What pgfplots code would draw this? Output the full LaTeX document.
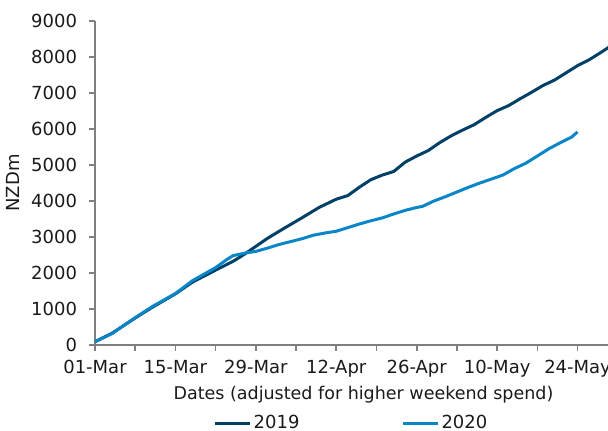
\documentclass[border=0pt]{standalone}
\usepackage{fontspec}
\setmainfont{DejaVu Sans}
\usepackage{pgfplots}
\pgfplotsset{compat=1.18}
\definecolor{c2019}{HTML}{003F66}
\definecolor{c2020}{HTML}{0A86C8}
\definecolor{axgray}{HTML}{7F7F7F}
\definecolor{txt}{HTML}{1A1A1A}
\begin{document}
\begin{tikzpicture}
\fontsize{9}{10.8}\selectfont
\begin{axis}[
  scale only axis,
  width=256.5pt, height=162pt,
  xmin=0, xmax=89.3, ymin=0, ymax=9000,
  axis lines=left,
  axis line style={-, axgray, line width=0.8pt},
  tick style={axgray, line width=0.8pt},
  tick align=outside,
  major tick length=2.8pt, minor tick length=2.8pt,
  xtick={0,14,28,42,56,70,84},
  minor xtick={7,21,35,49,63,77},
  xticklabels={01-Mar,15-Mar,29-Mar,12-Apr,26-Apr,10-May,24-May},
  ytick={0,1000,...,9000},
  yticklabel style={/pgf/number format/1000 sep={}, xshift=-3pt},
  xticklabel style={yshift=-1.5pt},
  /pgf/number format/assume math mode=true,
  ticklabel style={font=\fontsize{9}{10.8}\selectfont, text=txt},
  xlabel={Dates (adjusted for higher weekend spend)},
  ylabel={NZDm},
  label style={text=txt},
  xlabel style={font=\fontsize{8.75}{10.5}\selectfont, at={(axis description cs:0.5,0)}, anchor=center, xshift=6pt, yshift=-25pt},
  ylabel style={font=\fontsize{9}{10.8}\selectfont, at={(axis description cs:-0.16,0.5)}, anchor=center, rotate=0},
  legend style={at={(axis description cs:0.5,0)}, anchor=center, yshift=-39pt,
    draw=none, fill=none, legend columns=2, font=\fontsize{9}{10.8}\selectfont, text=txt,
    /tikz/every even column/.append style={column sep=50pt},
    /tikz/every odd column/.append style={column sep=0pt},
    nodes={inner xsep=1pt}},
  legend image code/.code={\draw[#1, line width=1.5pt] (0pt,0pt) -- (17.5pt,0pt);},
  clip=true,
]
\addplot[c2019, line width=1.5pt] coordinates {
(0,90) (3,330) (7,750) (10,1050) (14,1420) (17,1750) (21,2080) (24,2320) (26,2520)
(28,2740) (30,2960) (33,3250) (36,3530) (39,3820) (42,4050) (44,4150) (46,4380)
(48,4590) (50,4720) (52,4820) (54,5080) (56,5250) (58,5400) (60,5620) (62,5810)
(64,5970) (66,6120) (68,6320) (70,6510) (72,6650) (74,6840) (76,7020) (78,7210)
(80,7360) (82,7560) (84,7760) (86,7920) (88,8120) (90,8330)
};
\addlegendentry{2019}
\addplot[c2020, line width=1.5pt] coordinates {
(0,90) (3,320) (7,760) (10,1070) (14,1430) (17,1790) (21,2150) (23,2380) (24,2480)
(26,2550) (28,2600) (30,2690) (32,2790) (34,2870) (36,2950) (38,3050) (40,3110)
(42,3160) (44,3260) (46,3360) (48,3450) (50,3530) (52,3640) (54,3740) (56,3820)
(57,3850) (59,4000) (61,4120) (63,4250) (65,4380) (67,4500) (69,4610) (71,4720)
(73,4900) (75,5050) (77,5250) (79,5450) (81,5620) (83,5780) (84,5920)
};
\addlegendentry{2020}
\end{axis}
\pgfresetboundingbox
\path[use as bounding box] ([xshift=-47.5pt,yshift=-43pt]current axis.south west) rectangle ([yshift=10.5pt]current axis.north east);
\end{tikzpicture}
\end{document}
